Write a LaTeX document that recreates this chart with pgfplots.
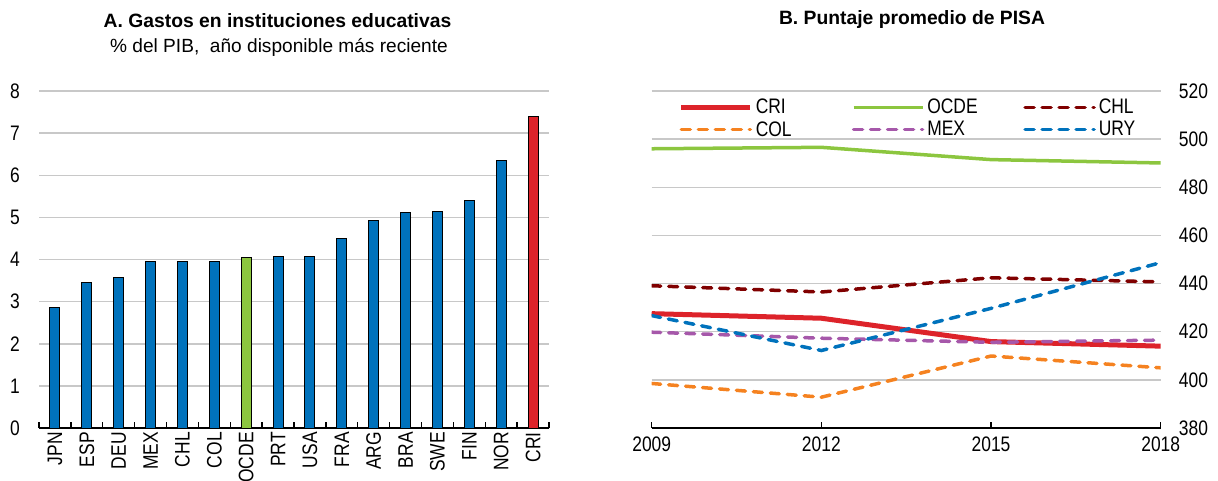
\documentclass[border=0pt]{standalone}
\usepackage{fontspec}
\setmainfont{Liberation Sans}
\newfontfamily\narrowfont{Liberation Sans}[FakeStretch=0.83]
\usepackage{pgfplots}
\pgfplotsset{compat=1.18}
\definecolor{barblue}{RGB}{0,114,188}
\definecolor{ocdegreen}{RGB}{140,198,63}
\definecolor{crired}{RGB}{221,35,42}
\definecolor{chlred}{RGB}{128,0,0}
\definecolor{colorange}{RGB}{245,130,32}
\definecolor{mexpurple}{RGB}{166,88,170}
\definecolor{urblue}{RGB}{0,114,188}
\definecolor{gridgray}{RGB}{200,200,200}
\newcommand\tickfont{\narrowfont\fontsize{21}{24}\selectfont}
\begin{document}
\begin{tikzpicture}
\path[use as bounding box] (0,0) rectangle (1218pt,480pt);
% ---------- Panel A ----------
\begin{axis}[
  at={(39pt,52pt)}, anchor=south west, scale only axis,
  width=510pt, height=337pt,
  xmin=-0.5, xmax=15.5, ymin=0, ymax=8,
  ytick={0,...,8},
  xtick={0,...,15},
  xticklabels={JPN,ESP,DEU,MEX,CHL,COL,OCDE,PRT,USA,FRA,ARG,BRA,SWE,FIN,NOR,CRI},
  minor xtick={-0.5,0.5,...,15.5},
  axis x line*=bottom, axis y line*=left,
  y axis line style={draw=none},
  x axis line style={black, line width=1.3pt, -},
  tick align=inside,
  major tick length=0pt, minor tick length=6pt,
  minor tick style={black, line width=1.3pt},
  ytick style={draw=none},
  ymajorgrids, grid style={gridgray, line width=1.5pt},
  tick label style={font=\tickfont, inner sep=0pt},
  /pgf/number format/assume math mode=true,
  x tick label style={rotate=90, anchor=east},
  xticklabel shift=4pt,
  yticklabel shift=19pt,
]
\addplot[ybar, bar width=10pt, bar shift=0pt, fill=barblue, draw=black, line width=1pt]
  coordinates {(0,2.87) (1,3.46) (2,3.58) (3,3.95) (4,3.95) (5,3.95)
               (7,4.06) (8,4.06) (9,4.49) (10,4.93) (11,5.11) (12,5.15) (13,5.39) (14,6.35)};
\addplot[ybar, bar width=10pt, bar shift=0pt, fill=ocdegreen, draw=black, line width=1pt]
  coordinates {(6,4.05)};
\addplot[ybar, bar width=10pt, bar shift=0pt, fill=crired, draw=black, line width=1pt]
  coordinates {(15,7.40)};
\end{axis}
% ---------- Panel B ----------
\begin{axis}[
  at={(651.7pt,52pt)}, anchor=south west, scale only axis,
  width=509pt, height=337pt,
  xmin=2009, xmax=2018, ymin=380, ymax=520,
  xtick={2009,2012,2015,2018}, ytick={380,400,...,520},
  axis x line*=bottom, axis y line*=right,
  y axis line style={draw=none},
  x axis line style={black, line width=1.3pt, -},
  tick align=inside, major tick length=6pt,
  xtick style={black, line width=1.3pt},
  ytick style={draw=none},
  ymajorgrids, grid style={gridgray, line width=1.5pt},
  tick label style={font=\tickfont, inner sep=0pt},
  /pgf/number format/assume math mode=true,
  /pgf/number format/1000 sep={},
  xticklabel shift=9pt,
  yticklabel shift=18pt,
  legend columns=3,
  legend cell align=left,
  legend style={draw=none, fill=none, at={(0.047,0.985)}, anchor=north west,
    font=\tickfont, row sep=4pt,
    nodes={inner sep=1pt},
    /tikz/every odd column/.append style={column sep=2pt}},
  legend image code/.code={\draw[#1] (0pt,0pt) -- (69pt,0pt);},
  dashed line/.style={line width=3.5pt, line cap=round, dash pattern=on 9pt off 8pt},
]
\addplot[crired, line width=5pt] coordinates {(2009,427.5) (2012,425.6) (2015,415.9) (2018,414.0)};
\addlegendentry{\makebox[95pt][l]{CRI}}
\addplot[ocdegreen, line width=3.5pt] coordinates {(2009,496.0) (2012,496.6) (2015,491.5) (2018,490.1)};
\addlegendentry{\makebox[95pt][l]{OCDE}}
\addplot[chlred, dashed line] coordinates {(2009,439.1) (2012,436.5) (2015,442.4) (2018,440.7)};
\addlegendentry{CHL}
\addplot[colorange, dashed line] coordinates {(2009,398.5) (2012,392.8) (2015,409.9) (2018,405.0)};
\addlegendentry{\makebox[95pt][l]{COL}}
\addplot[mexpurple, dashed line] coordinates {(2009,419.8) (2012,417.3) (2015,415.6) (2018,416.5)};
\addlegendentry{\makebox[95pt][l]{MEX}}
\addplot[urblue, dashed line] coordinates {(2009,426.7) (2012,412.2) (2015,429.7) (2018,448.7)};
\addlegendentry{URY}
\end{axis}
% ---------- Titles ----------
\node[font=\fontsize{19.3}{22}\selectfont\bfseries] at (277.5pt,459.5pt) {A. Gastos en instituciones educativas};
\node[font=\fontsize{19.1}{22}\selectfont] at (279pt,433pt) {\% del PIB,\ \ año disponible más reciente};
\node[font=\fontsize{19.3}{22}\selectfont\bfseries] at (912pt,460pt) {B. Puntaje promedio de PISA};
\end{tikzpicture}
\end{document}
